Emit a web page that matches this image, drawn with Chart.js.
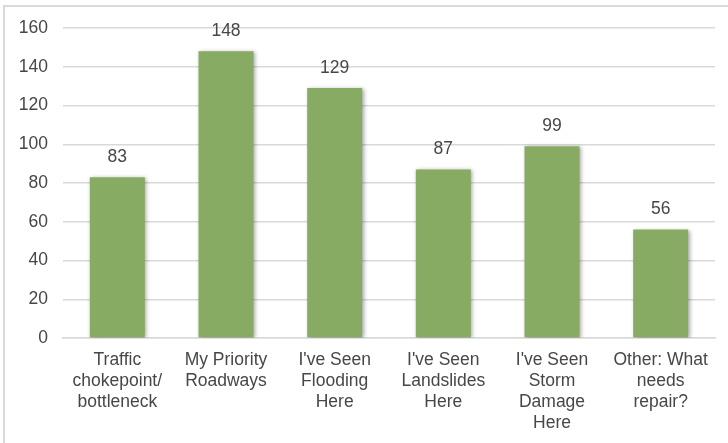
<!DOCTYPE html>
<html>
<head>
    <title>Survey responses</title>
    <script src="https://cdn.jsdelivr.net/npm/chart.js"></script>
    <style>
        body {margin: 0; background: #fff;}
        #chartContainer {position: relative; width: 728px; height: 443px;}
        #frame {position: absolute; left: 3px; top: 5px; right: -10px; bottom: -10px;
                border-left: 2px solid #d9d9d9; border-top: 2px solid #d9d9d9;}
    </style>
</head>
<body>
<div id="chartContainer">
    <div id="frame"></div>
    <canvas id="chart" width="728" height="443"></canvas>
</div>

<script>
    var categories = [
        ['Traffic', 'chokepoint/', 'bottleneck'],
        ['My Priority', 'Roadways'],
        ["I've Seen", 'Flooding', 'Here'],
        ["I've Seen", 'Landslides', 'Here'],
        ["I've Seen", 'Storm', 'Damage', 'Here'],
        ['Other: What', 'needs', 'repair?']
    ];
    var counts = [83, 148, 129, 87, 99, 56];
    var yTicks = [0, 20, 40, 60, 80, 100, 120, 140, 160];

    var textColor = '#474747';
    var fontFamily = '"Liberation Sans", Arial, sans-serif';

    // value labels above the bars
    var valueLabels = {
        id: 'valueLabels',
        afterDatasetsDraw: function(chart) {
            var ctx = chart.ctx;
            var meta = chart.getDatasetMeta(0);
            ctx.save();
            ctx.font = '17.5px ' + fontFamily;
            ctx.fillStyle = textColor;
            ctx.textAlign = 'center';
            ctx.textBaseline = 'middle';
            meta.data.forEach(function(bar, i) {
                ctx.fillText(chart.data.datasets[0].data[i], bar.x, bar.y - 20);
            });
            ctx.restore();
        }
    };

    // soft shadow like the office chart
    var barShadow = {
        id: 'barShadow',
        beforeDatasetDraw: function(chart) {
            var ctx = chart.ctx;
            ctx.save();
            ctx.shadowColor = 'rgba(0, 0, 0, 0.35)';
            ctx.shadowBlur = 4;
            ctx.shadowOffsetX = 1.5;
            ctx.shadowOffsetY = 1;
        },
        afterDatasetDraw: function(chart) {
            chart.ctx.restore();
        }
    };

    var ctx = document.getElementById('chart').getContext('2d');
    var chart = new Chart(ctx, {
        type: 'bar',
        data: {
            labels: categories,
            datasets: [{
                data: counts,
                backgroundColor: '#87ab63',
                borderWidth: 0,
                categoryPercentage: 1,
                barPercentage: 0.506
            }]
        },
        options: {
            responsive: false,
            animation: false,
            layout: {
                padding: {top: 28, right: 13, left: 0, bottom: 0}
            },
            plugins: {
                legend: {display: false},
                title: {display: false},
                tooltip: {enabled: false}
            },
            scales: {
                x: {
                    grid: {display: false, drawTicks: false},
                    border: {display: true, color: '#d9d9d9', width: 1.5},
                    ticks: {
                        color: textColor,
                        padding: 12,
                        maxRotation: 0,
                        autoSkip: false,
                        font: {family: fontFamily, size: 17.5, lineHeight: 1.2}
                    },
                    afterFit: function(scale) { scale.height = 105; }
                },
                y: {
                    min: 0,
                    max: 160,
                    afterBuildTicks: function(scale) {
                        scale.ticks = yTicks.map(function(v) { return {value: v}; });
                    },
                    grid: {color: '#d9d9d9', lineWidth: 1.5, drawTicks: false},
                    border: {display: false},
                    ticks: {
                        color: textColor,
                        padding: 15,
                        font: {family: fontFamily, size: 17.5}
                    },
                    afterFit: function(scale) { scale.width = 63; }
                }
            }
        },
        plugins: [barShadow, valueLabels]
    });
</script>
</body>
</html>
